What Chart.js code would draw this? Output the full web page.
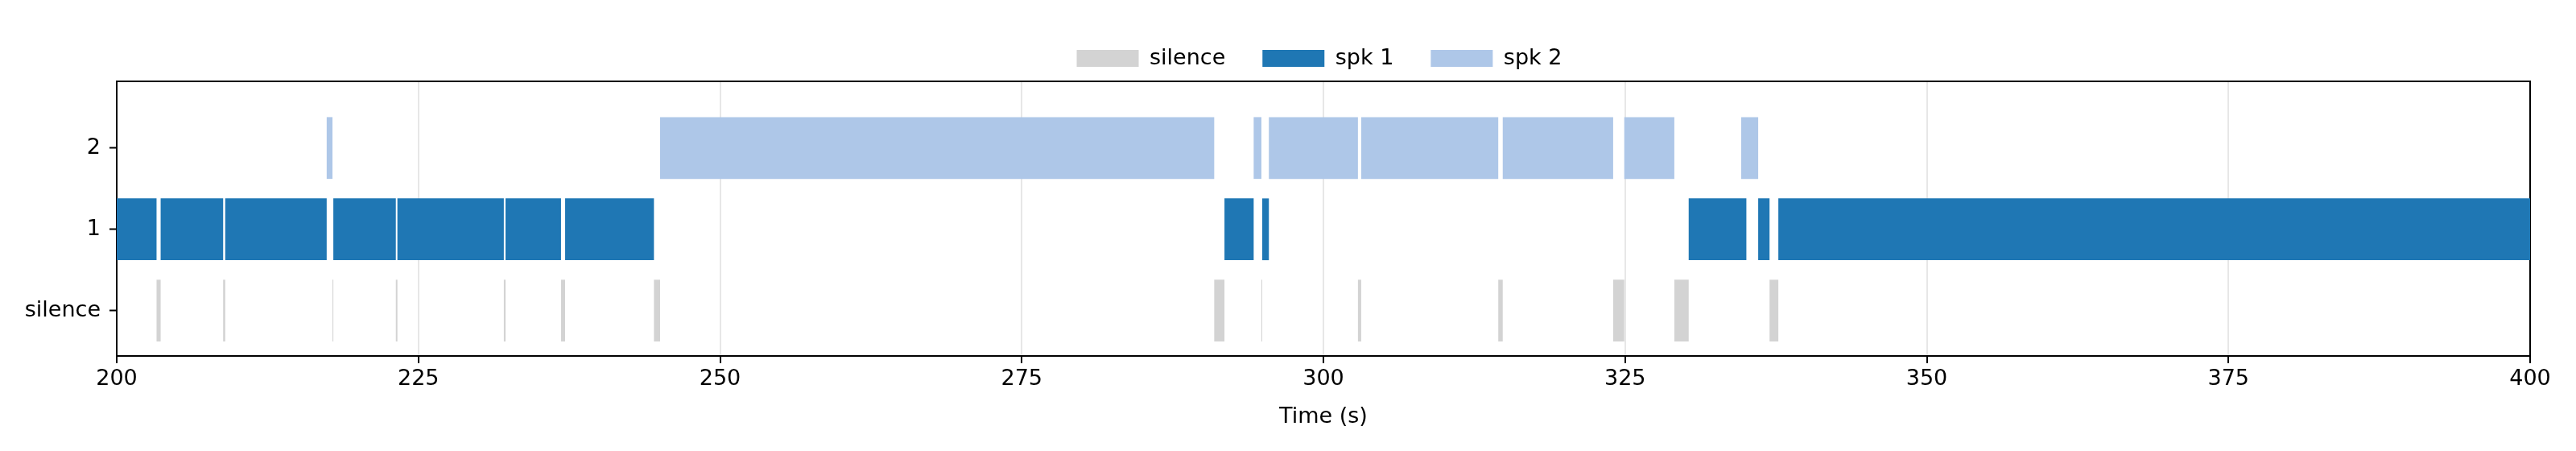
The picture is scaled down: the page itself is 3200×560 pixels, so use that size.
<!DOCTYPE html>
<html>
<head>
<meta charset="utf-8">
<title>Speaker timeline</title>
<script src="https://cdn.jsdelivr.net/npm/chart.js@4/dist/chart.umd.min.js"></script>
<style>
  body { margin: 0; background: #fff; }
  canvas { display: block; }
</style>
</head>
<body>
<canvas id="timeline" width="3200" height="560"></canvas>
<script>
// rows on the y axis (0 = silence, 1 = spk 1, 2 = spk 2)
const rowLabels = ['silence', '1', '2'];
const xTicks = [200, 225, 250, 275, 300, 325, 350, 375, 400];

// segments as [start, end] in seconds
const silenceSegs = [
  [203.30, 203.64], [208.82, 208.99], [217.88, 217.95], [223.13, 223.26],
  [232.08, 232.22], [236.82, 237.16], [244.52, 245.03], [290.95, 291.80],
  [294.86, 294.93], [302.86, 303.13], [314.49, 314.86], [324.01, 324.93],
  [329.08, 330.27], [336.97, 337.70]
];
const spk1Segs = [
  [200.00, 203.30], [203.64, 208.82], [208.99, 217.40], [217.95, 223.13],
  [223.26, 232.08], [232.22, 236.82], [237.16, 244.52], [291.80, 294.22],
  [294.93, 295.48], [330.27, 335.05], [336.03, 336.97], [337.70, 400.00]
];
const spk2Segs = [
  [217.40, 217.88], [245.03, 290.95], [294.22, 294.86], [295.48, 302.86],
  [303.13, 314.49], [314.86, 324.01], [324.93, 329.08], [334.62, 336.03]
];

const xMin = 200, xMax = 400;
const GRID = 'rgba(176,176,176,0.3)';

function toBars(segs, row) {
  return segs.map(s => ({ x: s, y: row }));
}

Chart.defaults.font.family = 'DejaVu Sans';
Chart.defaults.font.size = 27;
Chart.defaults.color = '#000';

const ctx = document.getElementById('timeline');
new Chart(ctx, {
  type: 'bar',
  data: {
    datasets: [
      { label: 'silence', data: toBars(silenceSegs, 0), backgroundColor: '#d3d3d3' },
      { label: 'spk 1', data: toBars(spk1Segs, 1), backgroundColor: '#1f77b4' },
      { label: 'spk 2', data: toBars(spk2Segs, 2), backgroundColor: '#aec7e8' }
    ]
  },
  options: {
    responsive: false,
    animation: false,
    devicePixelRatio: 1,
    indexAxis: 'y',
    // negative right padding shifts the legend so it centres over the plot
    layout: { padding: { top: 13, left: 30, right: -48, bottom: 0 } },
    datasets: {
      bar: { grouped: false, barPercentage: 0.76, categoryPercentage: 1, borderWidth: 0 }
    },
    plugins: {
      legend: {
        position: 'top',
        labels: { boxWidth: 77, boxHeight: 21, padding: 46, color: '#000', font: { size: 27 } }
      },
      tooltip: { enabled: false }
    },
    scales: {
      x: {
        type: 'linear', position: 'bottom', min: xMin, max: xMax, z: 1,
        afterBuildTicks: s => { s.ticks = xTicks.map(v => ({ value: v })); },
        afterFit: s => { s.height = 118; },
        ticks: { padding: 4, color: '#000', font: { size: 27 } },
        grid: {
          color: c => (c.tick && (c.tick.value === xMin || c.tick.value === xMax)) ? 'rgba(0,0,0,0)' : GRID,
          lineWidth: 2, tickColor: '#000', tickWidth: 2, tickLength: 9
        },
        border: { color: '#000', width: 2 },
        title: { display: true, text: 'Time (s)', color: '#000', font: { size: 27 }, padding: { top: 0, bottom: 26 } }
      },
      y: {
        type: 'linear', position: 'left', min: -0.558, max: 2.82, z: 1, offset: false,
        afterBuildTicks: s => { s.ticks = rowLabels.map((_, i) => ({ value: i })); },
        afterFit: s => { s.width = 115; },
        ticks: { padding: 11, color: '#000', font: { size: 27 }, callback: v => rowLabels[v] },
        grid: { offset: false, drawOnChartArea: false, tickColor: '#000', tickWidth: 2, tickLength: 9 },
        border: { color: '#000', width: 2 }
      },
      xTop: {
        type: 'linear', position: 'top', z: 1,
        afterFit: s => { s.height = 5; },
        ticks: { display: false }, grid: { display: false },
        border: { display: true, color: '#000', width: 2 }
      },
      yRight: {
        type: 'linear', position: 'right', z: 1,
        afterFit: s => { s.width = 105; },
        ticks: { display: false }, grid: { display: false },
        border: { display: true, color: '#000', width: 2 }
      }
    }
  }
});
</script>
</body>
</html>
